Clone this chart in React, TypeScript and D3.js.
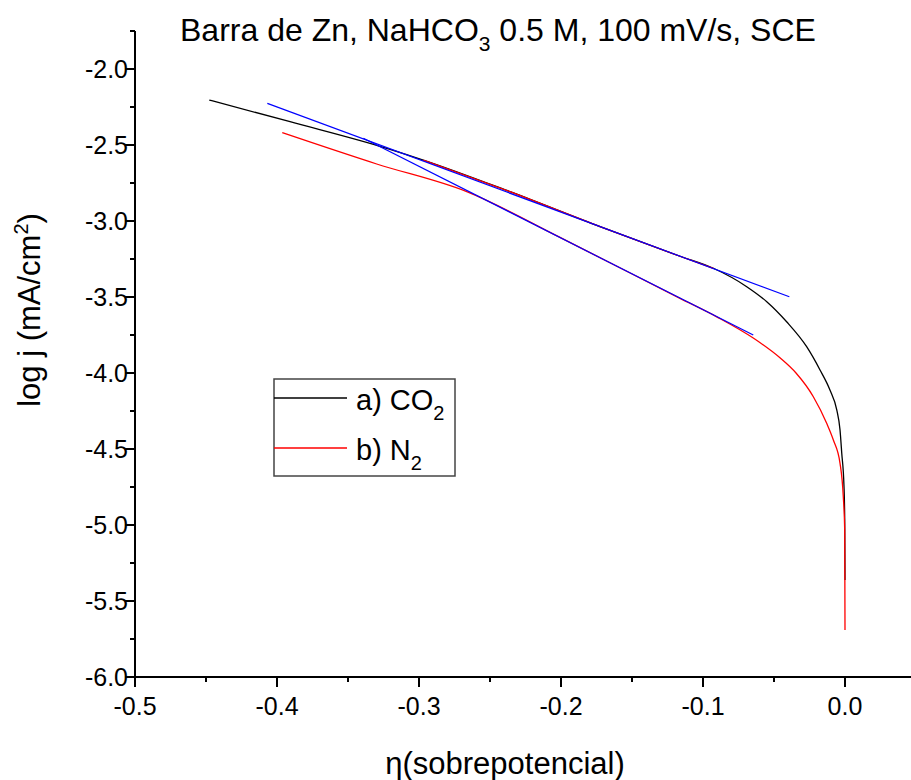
import React from "react";
import * as d3 from "d3";

const co2X = [-0.4477, -0.3908, -0.3227, -0.297, -0.2359, -0.1725, -0.1162, -0.0927, -0.0692, -0.0551, -0.0411, -0.027, -0.0176, -0.0106, -0.0058, -0.0035, -0.0023, -0.0007, -0.0002, 0.0];
const co2Y = [-2.204, -2.347, -2.522, -2.599, -2.807, -3.037, -3.232, -3.311, -3.432, -3.531, -3.663, -3.827, -3.98, -4.112, -4.243, -4.375, -4.526, -4.748, -4.967, -5.362];

const n2X = [-0.3963, -0.3298, -0.2664, -0.2007, -0.1162, -0.09, -0.0646, -0.0458, -0.0345, -0.0223, -0.0129, -0.0082, -0.0035, -0.0012, -0.0002, 0.0];
const n2Y = [-2.419, -2.625, -2.807, -3.108, -3.509, -3.632, -3.77, -3.9, -4.0, -4.156, -4.331, -4.441, -4.594, -4.814, -5.033, -5.691];

const n2UpperX = [-0.297, -0.2359, -0.1725, -0.1162, -0.0927];
const n2UpperY = [-2.599, -2.807, -3.037, -3.232, -3.311];

const fit1X = [-0.4068, -0.0392];
const fit1Y = [-2.226, -3.498];
const fit2X = [-0.3392, -0.0646];
const fit2Y = [-2.456, -3.75];

const xMajor = [-0.5, -0.4, -0.3, -0.2, -0.1, 0.0];
const xMinor = [-0.45, -0.35, -0.25, -0.15, -0.05];
const yMajor = [-2.0, -2.5, -3.0, -3.5, -4.0, -4.5, -5.0, -5.5, -6.0];
const yMinor = [-1.75, -2.25, -2.75, -3.25, -3.75, -4.25, -4.75, -5.25, -5.75];

const W = 911;
const H = 780;
const FONT = "Liberation Sans, Arial, sans-serif";

export default function App() {
  const x = d3.scaleLinear().domain([-0.5, 0.05]).range([135, 916]);
  const y = d3.scaleLinear().domain([-6.0, -1.75]).range([677, 31]);
  const smooth = d3
    .line<[number, number]>()
    .x((d) => x(d[0]))
    .y((d) => y(d[1]))
    .curve(d3.curveMonotoneX);
  const straight = d3
    .line<[number, number]>()
    .x((d) => x(d[0]))
    .y((d) => y(d[1]));
  const zip = (a: number[], b: number[]) => a.map((v, i) => [v, b[i]] as [number, number]);
  const fmt = (v: number) => d3.format(".1f")(v).replace("−", "-");

  return (
    <svg width={W} height={H} style={{ position: "absolute", left: 0, top: 0, background: "#fff" }}>
      <rect x={0} y={0} width={W} height={H} fill="#fff" />
      {/* title */}
      <text x={180} y={41} fontFamily={FONT} fontSize={32} fill="#000">
        Barra de Zn, NaHCO<tspan dy={10} fontSize={21}>3</tspan>
        <tspan dy={-10}> 0.5 M, 100 mV/s, SCE</tspan>
      </text>

      {/* curves */}
      <path d={smooth(zip(co2X, co2Y)) || ""} fill="none" stroke="#000" strokeWidth={1.3} />
      <path d={smooth(zip(n2X, n2Y)) || ""} fill="none" stroke="#ff0000" strokeWidth={1.3} />
      <path d={straight(zip(n2UpperX, n2UpperY)) || ""} fill="none" stroke="#ff0000" strokeWidth={1.3} />
      <path d={straight(zip(fit1X, fit1Y)) || ""} fill="none" stroke="#0000ff" strokeWidth={1.2} />
      <path d={straight(zip(fit2X, fit2Y)) || ""} fill="none" stroke="#0000ff" strokeWidth={1.2} />

      {/* axes */}
      <line x1={135} x2={135} y1={y(-1.75)} y2={y(-6.0) + 10} stroke="#000" strokeWidth={2} />
      <line x1={125} x2={W} y1={y(-6.0)} y2={y(-6.0)} stroke="#000" strokeWidth={2} />
      {yMajor.map((v) => (
        <g key={"ym" + v}>
          <line x1={125} x2={135} y1={y(v)} y2={y(v)} stroke="#000" strokeWidth={2} />
          <text x={128} y={y(v) + 9} textAnchor="end" fontFamily={FONT} fontSize={25} fill="#000">
            {fmt(v)}
          </text>
        </g>
      ))}
      {yMinor.map((v) => (
        <line key={"yn" + v} x1={130} x2={135} y1={y(v)} y2={y(v)} stroke="#000" strokeWidth={2} />
      ))}
      {xMajor.map((v) => (
        <g key={"xm" + v}>
          <line x1={x(v)} x2={x(v)} y1={y(-6.0)} y2={y(-6.0) + 10} stroke="#000" strokeWidth={2} />
          <text x={x(v)} y={715} textAnchor="middle" fontFamily={FONT} fontSize={25} fill="#000">
            {fmt(v)}
          </text>
        </g>
      ))}
      {xMinor.map((v) => (
        <line key={"xn" + v} x1={x(v)} x2={x(v)} y1={y(-6.0)} y2={y(-6.0) + 5} stroke="#000" strokeWidth={2} />
      ))}

      {/* axis titles */}
      <text x={505} y={774} textAnchor="middle" fontFamily={FONT} fontSize={31} fill="#000">
        η(sobrepotencial)
      </text>
      <text transform="translate(40,310) rotate(-90)" textAnchor="middle" fontFamily={FONT} fontSize={31} fill="#000">
        log j (mA/cm<tspan dy={-12} fontSize={20}>2</tspan>
        <tspan dy={12}>)</tspan>
      </text>

      {/* legend */}
      <rect x={274} y={379} width={181} height={97} fill="none" stroke="#444" strokeWidth={1.5} />
      <line x1={274} x2={347} y1={398} y2={398} stroke="#000" strokeWidth={1.3} />
      <line x1={274} x2={347} y1={448} y2={448} stroke="#ff0000" strokeWidth={1.3} />
      <text x={356} y={410} fontFamily={FONT} fontSize={29} fill="#000">
        a) CO<tspan dy={10} fontSize={20}>2</tspan>
      </text>
      <text x={356} y={460} fontFamily={FONT} fontSize={29} fill="#000">
        b) N<tspan dy={10} fontSize={20}>2</tspan>
      </text>
    </svg>
  );
}
